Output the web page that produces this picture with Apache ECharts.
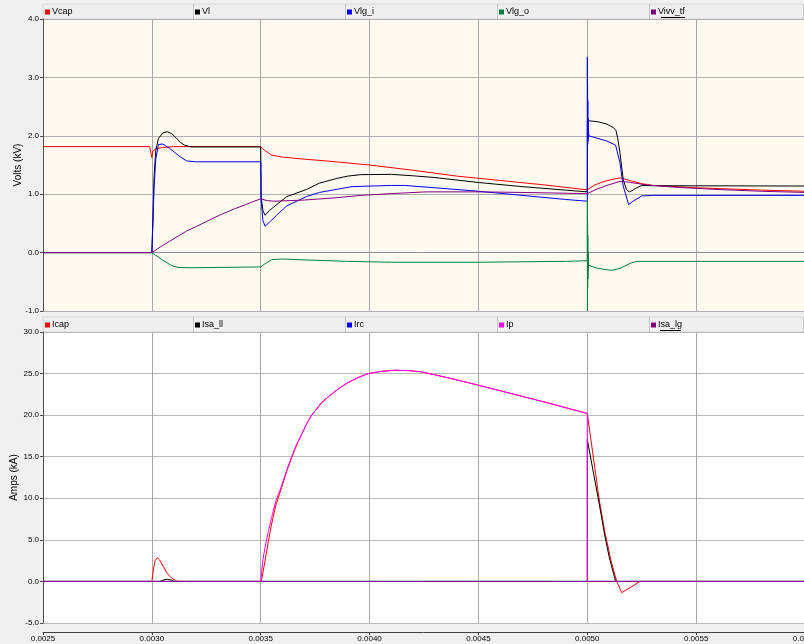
<!DOCTYPE html>
<html><head><meta charset="utf-8">
<script src="https://cdn.jsdelivr.net/npm/echarts@6/dist/echarts.min.js"></script>
<style>html,body{margin:0;padding:0;background:#f0f0f0}#c{width:804px;height:644px}</style>
</head><body><div id="c"></div>
<script>
// ---- Data (time in s, values in kV / kA) ----
const xTicks = [0.0025, 0.0030, 0.0035, 0.0040, 0.0045, 0.0050, 0.0055, 0.0060];
const topNames = ['Vcap', 'Vl', 'Vlg_i', 'Vlg_o', 'Vivv_tf'];
const botNames = ['Icap', 'Isa_ll', 'Irc', 'Ip', 'Isa_lg'];

const vcap = [[0.0025,1.815],[0.00299,1.815],[0.003,1.63],[0.003005,1.74],[0.00302,1.78],[0.00305,1.80],[0.0031,1.815],[0.0035,1.815],[0.003515,1.76],[0.00355,1.67],[0.0036,1.635],[0.0037,1.60],[0.0038,1.57],[0.0039,1.535],[0.004,1.50],[0.0042,1.41],[0.0044,1.31],[0.0046,1.235],[0.0048,1.16],[0.005,1.075],[0.00503,1.15],[0.00507,1.21],[0.0051,1.24],[0.00515,1.28],[0.00519,1.24],[0.00525,1.18],[0.0053,1.15],[0.0055,1.11],[0.0058,1.07],[0.006,1.05]];
const vl = [[0.0025,0],[0.003,0],[0.003005,0.6],[0.00301,1.3],[0.003018,1.75],[0.00303,1.95],[0.00305,2.05],[0.00307,2.07],[0.00309,2.04],[0.00311,1.97],[0.00313,1.89],[0.00315,1.84],[0.00318,1.81],[0.0035,1.81],[0.003502,0.95],[0.00351,0.72],[0.00352,0.64],[0.00354,0.72],[0.003573,0.82],[0.00362,0.96],[0.00371,1.08],[0.00377,1.19],[0.00385,1.27],[0.0039,1.31],[0.00396,1.335],[0.0041,1.34],[0.0042,1.315],[0.0043,1.285],[0.0045,1.20],[0.0047,1.13],[0.0049,1.07],[0.005,1.04],[0.0050005,2.26],[0.00505,2.24],[0.00509,2.2],[0.00512,2.14],[0.005132,2.09],[0.00514,1.95],[0.00515,1.71],[0.005165,1.25],[0.00518,1.08],[0.005193,1.04],[0.00521,1.07],[0.005227,1.11],[0.00525,1.15],[0.0053,1.145],[0.006,1.14]];
const vlgi = [[0.0025,0],[0.003,0],[0.003005,0.5],[0.00301,1.1],[0.003018,1.6],[0.00303,1.85],[0.003037,1.88],[0.00305,1.86],[0.00308,1.79],[0.00311,1.70],[0.00313,1.64],[0.00316,1.57],[0.0032,1.555],[0.0035,1.555],[0.003502,0.9],[0.00351,0.55],[0.00352,0.45],[0.00354,0.52],[0.003573,0.64],[0.00362,0.80],[0.00371,0.96],[0.00377,1.03],[0.00392,1.13],[0.0041,1.15],[0.00416,1.15],[0.0043,1.11],[0.0045,1.05],[0.0047,0.98],[0.0049,0.91],[0.005,0.88],[0.0050003,3.35],[0.0050008,1.8],[0.0050013,2.9],[0.0050018,1.85],[0.0050023,2.6],[0.0050028,1.9],[0.0050035,2.3],[0.0050045,1.95],[0.0050055,2.1],[0.005007,2.0],[0.00509,1.91],[0.00513,1.84],[0.00515,1.54],[0.005165,1.14],[0.00519,0.82],[0.00521,0.88],[0.00525,0.97],[0.0053,0.98],[0.006,0.98]];
const vlgo = [[0.0025,0],[0.003,0],[0.00305,-0.13],[0.00309,-0.22],[0.00312,-0.255],[0.00318,-0.26],[0.0035,-0.245],[0.00352,-0.19],[0.00355,-0.12],[0.0036,-0.11],[0.0037,-0.125],[0.0039,-0.15],[0.0041,-0.165],[0.0045,-0.165],[0.0049,-0.15],[0.005,-0.14],[0.0050003,0.9],[0.0050008,-1.0],[0.0050013,0.55],[0.0050018,-0.6],[0.0050023,0.3],[0.0050028,-0.45],[0.0050035,0.0],[0.0050045,-0.3],[0.0050055,-0.15],[0.005007,-0.22],[0.00505,-0.27],[0.0051,-0.3],[0.005118,-0.3],[0.00515,-0.27],[0.0052,-0.18],[0.005228,-0.15],[0.006,-0.15]];
const vivv = [[0.0025,0],[0.003,0],[0.00304,0.1],[0.00308,0.19],[0.00312,0.28],[0.00316,0.37],[0.0032,0.44],[0.00325,0.53],[0.00331,0.64],[0.00338,0.75],[0.00343,0.82],[0.00347,0.88],[0.0035,0.92],[0.00353,0.89],[0.00356,0.88],[0.0037,0.90],[0.00385,0.94],[0.00396,0.98],[0.0041,1.01],[0.00426,1.04],[0.0045,1.04],[0.0047,1.03],[0.005,1.01],[0.00504,1.08],[0.00509,1.15],[0.00515,1.22],[0.00518,1.21],[0.0052,1.20],[0.00527,1.16],[0.0054,1.12],[0.0056,1.08],[0.0058,1.05],[0.006,1.03]];

const icap = [[0.0025,0],[0.003,0],[0.003008,1.6],[0.003015,2.5],[0.003025,2.85],[0.003035,2.6],[0.00305,1.9],[0.00307,1.0],[0.00309,0.4],[0.00311,0.1],[0.003121,0],[0.0035,0],[0.003505,0.3],[0.00352,2.5],[0.003535,4.8],[0.00355,6.9],[0.00357,9.2],[0.003596,11.3],[0.00362,13.3],[0.003642,14.9],[0.003665,16.4],[0.00369,17.8],[0.003712,19.0],[0.003734,20.0],[0.00378,21.5],[0.00381,22.2],[0.003841,22.85],[0.00387,23.4],[0.0039,23.9],[0.00395,24.55],[0.003994,25.0],[0.00405,25.25],[0.004117,25.4],[0.00418,25.35],[0.004239,25.2],[0.0043,24.85],[0.004392,24.3],[0.0045,23.6],[0.0048,21.6],[0.005,20.2],[0.005055,9.8],[0.00508,6.0],[0.00511,2.4],[0.005135,0],[0.005158,-1.35],[0.0052,-0.7],[0.005242,0],[0.006,0]];
const isall = [[0.0025,0],[0.003037,0],[0.00305,0.15],[0.00307,0.27],[0.00309,0.15],[0.003103,0],[0.005,0],[0.0050001,17.05],[0.005055,9.3],[0.00508,5.6],[0.0051,3.0],[0.00513,0],[0.006,0]];
const irc = [[0.0025,0],[0.006,0]];
const ip = [[0.0025,0],[0.0035,0],[0.00351,2.6],[0.00352,4.1],[0.003535,6.0],[0.00355,7.7],[0.00357,9.7],[0.003596,11.5],[0.00362,13.4],[0.003642,15.0],[0.003665,16.5],[0.00369,17.8],[0.003712,19.0],[0.003734,20.0],[0.00378,21.5],[0.00381,22.2],[0.003841,22.85],[0.00387,23.4],[0.0039,23.9],[0.00395,24.55],[0.003994,25.0],[0.00405,25.25],[0.004117,25.4],[0.00418,25.35],[0.004239,25.2],[0.0043,24.85],[0.004392,24.3],[0.0045,23.6],[0.0048,21.6],[0.005,20.2],[0.0050001,0],[0.006,0]];
const isalg = [[0.0025,0],[0.006,0]];

const topColors = ['#ff0000','#000000','#0000ff','#008040','#800080'];
const botColors = ['#ff0000','#000000','#0000ff','#ff00ff','#800080'];
const cellX = [43, 193, 345, 497, 649];

const FONT = 'Liberation Sans, Arial, sans-serif';
const chart = echarts.init(document.getElementById('c'), null, {renderer:'canvas'});

function mkSeries(name, data, color, axisIdx){
  return {name, type:'line', data, xAxisIndex:axisIdx, yAxisIndex:axisIdx, showSymbol:false, symbol:'none',
    lineStyle:{width:1, color}, itemStyle:{color}, animation:false, silent:true, z: 3};
}
const topData = [vcap, vl, vlgi, vlgo, vivv];
const botData = [icap, isall, irc, ip, isalg];
const series = [];
topNames.forEach((n,i)=>series.push(mkSeries(n, topData[i], topColors[i], 0)));
botNames.forEach((n,i)=>series.push(mkSeries(n, botData[i], botColors[i], 1)));

const legends = [];
function mkLegend(name, x, top){
  return {data:[name], left:x+2, top, orient:'horizontal', icon:'rect', itemWidth:5, itemHeight:5,
    padding:0, selectedMode:false, textStyle:{fontSize:9, fontFamily:FONT, color:'#000', padding:[0,0,0,-3], lineHeight:12}};
}
topNames.forEach((n,i)=>legends.push(mkLegend(n, cellX[i], 6)));
botNames.forEach((n,i)=>legends.push(mkLegend(n, cellX[i], 319)));

const graphics = [];
function bar(y0, h){
  graphics.push({type:'rect', shape:{x:43, y:y0, width:762, height:h}, style:{fill:'#efefef', stroke:'#d8d8d8', lineWidth:1}, z:-1});
  cellX.slice(1).concat([803]).forEach(x=>{
    graphics.push({type:'line', shape:{x1:x+0.5, y1:y0, x2:x+0.5, y2:y0+h}, style:{stroke:'#c8c8c8', lineWidth:1}, z:-1});
  });
}
bar(4, 15);
bar(317, 15);
graphics.push({type:'line', shape:{x1:661, y1:17.5, x2:685, y2:17.5}, style:{stroke:'#000', lineWidth:1}});
graphics.push({type:'line', shape:{x1:660, y1:330.5, x2:681, y2:330.5}, style:{stroke:'#000', lineWidth:1}});

const axisLbl = {fontSize:8, fontFamily:FONT, color:'#000'};
const option = {
  backgroundColor:'#f0f0f0',
  animation:false,
  graphic: graphics,
  legend: legends,
  grid:[
    {left:43, top:19, width:762, height:292, show:true, backgroundColor:'#fefaef', borderWidth:0, outerBoundsMode:'none', containLabel:false},
    {left:43, top:332, width:762, height:291, show:true, backgroundColor:'#ffffff', borderWidth:0, outerBoundsMode:'none', containLabel:false}
  ],
  xAxis:[
    {type:'value', gridIndex:0, min:xTicks[0], max:xTicks[xTicks.length-1], interval:0.0005,
      axisLabel:{show:false}, axisTick:{show:false}, axisLine:{show:true, lineStyle:{color:'#909090'}},
      splitLine:{show:true, lineStyle:{color:'#a8a8a8', width:1}}},
    {type:'value', gridIndex:1, min:xTicks[0], max:xTicks[xTicks.length-1], interval:0.0005, offset:9,
      axisLabel:{show:true, ...axisLbl, margin:3, showMaxLabel:true, showMinLabel:true, hideOverlap:false, formatter:v=>v.toFixed(4)},
      axisTick:{show:true, length:3, lineStyle:{color:'#404040'}}, axisLine:{show:true, onZero:false, lineStyle:{color:'#404040'}},
      splitLine:{show:true, lineStyle:{color:'#a8a8a8', width:1}}}
  ],
  yAxis:[
    {type:'value', gridIndex:0, min:-1, max:4, interval:1, name:'Volts (kV)', nameLocation:'middle', nameGap:20, nameMoveOverlap:false,
      nameTextStyle:{fontSize:10, fontFamily:FONT, color:'#000'},
      axisLabel:{...axisLbl, margin:4, formatter:v=>v.toFixed(1)},
      axisTick:{show:true, length:3, lineStyle:{color:'#505050'}}, axisLine:{show:true, lineStyle:{color:'#505050'}},
      splitLine:{show:true, lineStyle:{color:'#b0b0b0', width:1}}},
    {type:'value', gridIndex:1, min:-5, max:30, interval:5, name:'Amps (kA)', nameLocation:'middle', nameGap:24, nameMoveOverlap:false,
      nameTextStyle:{fontSize:10, fontFamily:FONT, color:'#000'},
      axisLabel:{...axisLbl, margin:4, formatter:v=>v.toFixed(1)},
      axisTick:{show:true, length:3, lineStyle:{color:'#505050'}}, axisLine:{show:true, lineStyle:{color:'#505050'}},
      splitLine:{show:true, lineStyle:{color:'#b8b8b8', width:1}}}
  ],
  series
};
chart.setOption(option);
</script></body></html>
